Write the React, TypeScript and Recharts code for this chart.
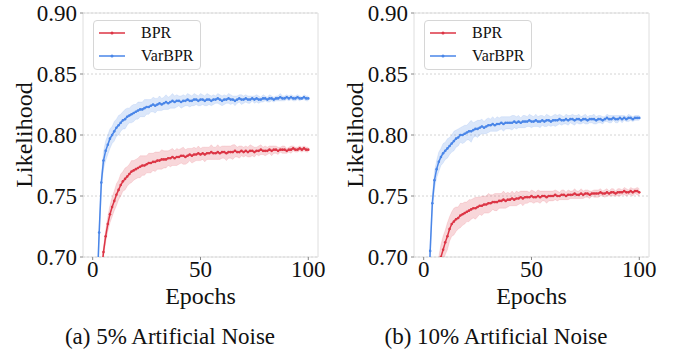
import React from 'react';
import { ComposedChart, Line, Area, XAxis, YAxis, CartesianGrid, Legend, ReferenceArea } from 'recharts';

// x axis: training epochs
const epochs = Array.from({ length: 100 }, (_, i) => i + 1);
const xTicks = [0, 50, 100];
const yTicks = [0.7, 0.75, 0.8, 0.85, 0.9];
const seriesNames = ['BPR', 'VarBPR'];
const captions = ['(a) 5% Artificial Noise', '(b) 10% Artificial Noise'];

// 5% noise
const noise5Bpr = [
  0.640, 0.655, 0.668, 0.686, 0.704, 0.717, 0.727, 0.735, 0.741, 0.746,
  0.751, 0.755, 0.759, 0.762, 0.764, 0.766, 0.768, 0.770, 0.771, 0.772,
  0.773, 0.774, 0.775, 0.775, 0.776, 0.777, 0.777, 0.778, 0.778, 0.779,
  0.779, 0.780, 0.780, 0.780, 0.781, 0.781, 0.782, 0.781, 0.782, 0.782,
  0.783, 0.783, 0.782, 0.783, 0.784, 0.783, 0.784, 0.784, 0.785, 0.784,
  0.785, 0.784, 0.785, 0.785, 0.786, 0.785, 0.785, 0.786, 0.785, 0.786,
  0.786, 0.785, 0.786, 0.786, 0.786, 0.787, 0.786, 0.786, 0.787, 0.786,
  0.787, 0.786, 0.787, 0.787, 0.786, 0.787, 0.787, 0.788, 0.787, 0.787,
  0.787, 0.788, 0.787, 0.788, 0.788, 0.787, 0.788, 0.788, 0.788, 0.787,
  0.788, 0.788, 0.789, 0.788, 0.788, 0.789, 0.788, 0.789, 0.788, 0.788,
];
const noise5BprSpread = [
  0.004, 0.004, 0.004, 0.004, 0.004, 0.005, 0.006, 0.007, 0.008, 0.008,
  0.009, 0.008, 0.009, 0.008, 0.009, 0.008, 0.008, 0.009, 0.008, 0.008,
  0.008, 0.009, 0.008, 0.008, 0.007, 0.008, 0.008, 0.007, 0.008, 0.007,
  0.007, 0.008, 0.007, 0.007, 0.006, 0.007, 0.007, 0.006, 0.007, 0.006,
  0.006, 0.007, 0.006, 0.006, 0.005, 0.006, 0.006, 0.005, 0.006, 0.005,
  0.005, 0.006, 0.005, 0.005, 0.006, 0.005, 0.005, 0.006, 0.005, 0.005,
  0.005, 0.006, 0.005, 0.005, 0.006, 0.005, 0.004, 0.005, 0.004, 0.004,
  0.004, 0.004, 0.005, 0.004, 0.004, 0.003, 0.004, 0.004, 0.003, 0.004,
  0.003, 0.003, 0.004, 0.003, 0.003, 0.003, 0.002, 0.003, 0.003, 0.002,
  0.002, 0.003, 0.002, 0.002, 0.002, 0.002, 0.002, 0.002, 0.002, 0.002,
];
const noise5VarBpr = [
  0.600, 0.672, 0.720, 0.761, 0.779, 0.787, 0.792, 0.797, 0.800, 0.803,
  0.806, 0.808, 0.810, 0.812, 0.813, 0.815, 0.816, 0.817, 0.818, 0.819,
  0.820, 0.821, 0.821, 0.822, 0.823, 0.823, 0.824, 0.825, 0.824, 0.825,
  0.826, 0.825, 0.826, 0.827, 0.826, 0.827, 0.828, 0.827, 0.828, 0.828,
  0.827, 0.828, 0.828, 0.829, 0.828, 0.828, 0.829, 0.829, 0.828, 0.829,
  0.829, 0.828, 0.829, 0.829, 0.828, 0.829, 0.829, 0.830, 0.829, 0.828,
  0.829, 0.829, 0.830, 0.829, 0.829, 0.828, 0.829, 0.830, 0.829, 0.829,
  0.830, 0.829, 0.829, 0.830, 0.829, 0.830, 0.829, 0.829, 0.830, 0.830,
  0.829, 0.830, 0.830, 0.829, 0.830, 0.830, 0.831, 0.830, 0.830, 0.831,
  0.830, 0.831, 0.830, 0.830, 0.831, 0.830, 0.830, 0.831, 0.830, 0.830,
];
const noise5VarBprSpread = [
  0.004, 0.004, 0.005, 0.006, 0.007, 0.008, 0.008, 0.008, 0.007, 0.008,
  0.007, 0.008, 0.007, 0.007, 0.008, 0.007, 0.006, 0.007, 0.007, 0.006,
  0.007, 0.006, 0.006, 0.007, 0.006, 0.006, 0.005, 0.006, 0.006, 0.005,
  0.006, 0.005, 0.005, 0.006, 0.005, 0.005, 0.006, 0.005, 0.005, 0.004,
  0.005, 0.005, 0.004, 0.005, 0.005, 0.004, 0.005, 0.004, 0.004, 0.005,
  0.004, 0.004, 0.005, 0.004, 0.004, 0.004, 0.003, 0.004, 0.004, 0.004,
  0.004, 0.003, 0.004, 0.004, 0.003, 0.004, 0.003, 0.003, 0.004, 0.003,
  0.003, 0.003, 0.003, 0.002, 0.003, 0.003, 0.003, 0.002, 0.003, 0.002,
  0.002, 0.003, 0.002, 0.002, 0.002, 0.002, 0.003, 0.002, 0.002, 0.002,
  0.002, 0.002, 0.002, 0.002, 0.002, 0.002, 0.001, 0.002, 0.002, 0.002,
];

// 10% noise
const noise10Bpr = [
  0.600, 0.620, 0.640, 0.655, 0.668, 0.678, 0.690, 0.700, 0.706, 0.712,
  0.717, 0.723, 0.727, 0.729, 0.731, 0.732, 0.734, 0.735, 0.736, 0.737,
  0.738, 0.739, 0.740, 0.740, 0.741, 0.742, 0.742, 0.743, 0.743, 0.744,
  0.744, 0.745, 0.745, 0.745, 0.746, 0.746, 0.747, 0.746, 0.747, 0.747,
  0.748, 0.747, 0.748, 0.748, 0.749, 0.748, 0.749, 0.749, 0.749, 0.750,
  0.749, 0.749, 0.750, 0.749, 0.750, 0.750, 0.749, 0.750, 0.750, 0.750,
  0.751, 0.750, 0.750, 0.751, 0.751, 0.750, 0.751, 0.751, 0.751, 0.752,
  0.751, 0.751, 0.752, 0.751, 0.752, 0.752, 0.751, 0.752, 0.752, 0.752,
  0.752, 0.753, 0.752, 0.752, 0.753, 0.752, 0.753, 0.753, 0.752, 0.753,
  0.753, 0.753, 0.754, 0.753, 0.753, 0.754, 0.753, 0.754, 0.754, 0.753,
];
const noise10BprSpread = [
  0.006, 0.006, 0.006, 0.007, 0.008, 0.009, 0.010, 0.010, 0.011, 0.010,
  0.011, 0.010, 0.010, 0.011, 0.010, 0.009, 0.010, 0.009, 0.009, 0.008,
  0.009, 0.008, 0.008, 0.009, 0.008, 0.007, 0.008, 0.007, 0.007, 0.008,
  0.007, 0.006, 0.007, 0.007, 0.006, 0.006, 0.007, 0.006, 0.006, 0.005,
  0.006, 0.005, 0.006, 0.005, 0.005, 0.006, 0.005, 0.005, 0.004, 0.005,
  0.005, 0.004, 0.005, 0.005, 0.004, 0.004, 0.005, 0.004, 0.004, 0.004,
  0.004, 0.004, 0.003, 0.004, 0.004, 0.003, 0.004, 0.003, 0.003, 0.004,
  0.003, 0.003, 0.004, 0.003, 0.003, 0.003, 0.003, 0.002, 0.003, 0.003,
  0.003, 0.003, 0.002, 0.003, 0.003, 0.002, 0.003, 0.003, 0.002, 0.003,
  0.003, 0.002, 0.003, 0.003, 0.002, 0.003, 0.003, 0.002, 0.003, 0.003,
];
const noise10VarBpr = [
  0.580, 0.650, 0.705, 0.744, 0.763, 0.772, 0.778, 0.782, 0.785, 0.787,
  0.789, 0.791, 0.793, 0.795, 0.797, 0.798, 0.800, 0.800, 0.801, 0.802,
  0.803, 0.803, 0.804, 0.805, 0.805, 0.806, 0.807, 0.806, 0.807, 0.808,
  0.808, 0.809, 0.808, 0.809, 0.809, 0.810, 0.809, 0.810, 0.810, 0.810,
  0.810, 0.811, 0.810, 0.811, 0.810, 0.811, 0.811, 0.811, 0.812, 0.811,
  0.811, 0.812, 0.811, 0.811, 0.812, 0.811, 0.812, 0.812, 0.811, 0.812,
  0.812, 0.812, 0.813, 0.812, 0.812, 0.813, 0.812, 0.813, 0.813, 0.812,
  0.813, 0.813, 0.812, 0.813, 0.813, 0.812, 0.813, 0.813, 0.813, 0.812,
  0.813, 0.813, 0.812, 0.813, 0.814, 0.813, 0.813, 0.814, 0.813, 0.813,
  0.814, 0.813, 0.814, 0.813, 0.814, 0.814, 0.813, 0.814, 0.814, 0.814,
];
const noise10VarBprSpread = [
  0.004, 0.004, 0.005, 0.006, 0.007, 0.007, 0.008, 0.007, 0.008, 0.007,
  0.008, 0.007, 0.007, 0.008, 0.007, 0.007, 0.006, 0.007, 0.007, 0.006,
  0.007, 0.009, 0.006, 0.006, 0.007, 0.006, 0.006, 0.005, 0.006, 0.006,
  0.005, 0.006, 0.005, 0.006, 0.005, 0.005, 0.006, 0.005, 0.005, 0.005,
  0.006, 0.005, 0.005, 0.005, 0.004, 0.005, 0.005, 0.004, 0.005, 0.005,
  0.004, 0.005, 0.004, 0.005, 0.004, 0.004, 0.005, 0.004, 0.004, 0.004,
  0.005, 0.004, 0.004, 0.004, 0.003, 0.004, 0.004, 0.003, 0.004, 0.004,
  0.003, 0.004, 0.003, 0.003, 0.004, 0.003, 0.003, 0.003, 0.004, 0.003,
  0.003, 0.003, 0.003, 0.002, 0.003, 0.003, 0.003, 0.002, 0.003, 0.003,
  0.002, 0.003, 0.002, 0.002, 0.003, 0.002, 0.002, 0.002, 0.002, 0.002,
];

const RED = '#dc3545';
const BLUE = '#4a86e8';
const colors = [RED, BLUE];
const FONT = 'Liberation Serif';
const textStyle = { fontFamily: FONT };

const buildRows = (bpr: number[], bprSd: number[], vbpr: number[], vbprSd: number[]) =>
  epochs.map((epoch, i) => ({
    epoch,
    bpr: bpr[i],
    bprBand: [bpr[i] - bprSd[i], bpr[i] + bprSd[i]],
    varbpr: vbpr[i],
    varbprBand: [vbpr[i] - vbprSd[i], vbpr[i] + vbprSd[i]],
  }));

const XTick = ({ x, y, payload }: any) => (
  <text x={x} y={y} dy="0.71em" textAnchor="middle" fontSize={23} fill="#111" style={textStyle}>
    {payload.value}
  </text>
);

const YTick = ({ x, y, payload }: any) => (
  <text x={x} y={y} dy="0.355em" textAnchor="end" fontSize={23} fill="#111" style={textStyle}>
    {Number(payload.value).toFixed(2)}
  </text>
);

const AxisTitle = ({ viewBox, text, kind }: any) => {
  if (!viewBox) return null;
  if (kind === 'x') {
    return (
      <text x={viewBox.x + viewBox.width / 2} y={viewBox.y + 47} textAnchor="middle" fontSize={24} fill="#111" style={textStyle}>
        {text}
      </text>
    );
  }
  const x = viewBox.x + 32;
  const y = viewBox.y + viewBox.height / 2;
  return (
    <text x={x} y={y} textAnchor="middle" fontSize={24} fill="#111" style={textStyle} transform={`rotate(-90, ${x}, ${y})`}>
      {text}
    </text>
  );
};

const LegendBox = () => (
  <div
    style={{
      position: 'relative',
      width: 108,
      height: 50,
      boxSizing: 'border-box',
      border: '1px solid #d6d6d6',
      borderRadius: 4,
      background: 'rgba(255,255,255,0.85)',
      fontSize: 16,
      fontFamily: FONT,
      color: '#111',
    }}
  >
    {seriesNames.map((name, i) => (
      <div key={name} style={{ position: 'absolute', left: 5, top: 2 + i * 23, height: 20, display: 'flex', alignItems: 'center' }}>
        <svg width={26} height={8}>
          <line x1={0} y1={4} x2={26} y2={4} stroke={colors[i]} strokeWidth={1.5} />
          <circle cx={13} cy={4} r={1.5} fill={colors[i]} />
        </svg>
        <span style={{ marginLeft: 16, lineHeight: '20px' }}>{name}</span>
      </div>
    ))}
  </div>
);

const Panel = ({ rows, left, caption, captionX }: any) => (
  <div style={{ position: 'absolute', left, top: 0, width: 340, height: 350 }}>
    <ComposedChart width={340} height={310} data={rows} margin={{ top: 13, right: 22, bottom: 0, left: 0 }}>
      <CartesianGrid vertical={false} stroke="#d4d4d4" strokeDasharray="2 2" />
      <ReferenceArea x1={-4.5} x2={104.5} y1={0.7} y2={0.9} fill="none" stroke="#dedede" strokeWidth={1} />
      <XAxis
        type="number"
        dataKey="epoch"
        domain={[-4.5, 104.5]}
        ticks={xTicks}
        allowDataOverflow
        height={53}
        axisLine={false}
        tickLine={{ stroke: '#888' }}
        tickSize={3}
        tickMargin={1}
        tick={<XTick />}
        label={<AxisTitle text="Epochs" kind="x" />}
      />
      <YAxis
        domain={[0.7, 0.9]}
        ticks={yTicks}
        allowDataOverflow
        width={83}
        axisLine={false}
        tickLine={{ stroke: '#888' }}
        tickSize={3}
        tickMargin={3}
        tick={<YTick />}
        label={<AxisTitle text="Likelihood" kind="y" />}
      />
      <Area
        type="linear"
        dataKey="bprBand"
        fill={RED}
        fillOpacity={0.2}
        stroke={RED}
        strokeOpacity={0.12}
        legendType="none"
        isAnimationActive={false}
      />
      <Area
        type="linear"
        dataKey="varbprBand"
        fill={BLUE}
        fillOpacity={0.2}
        stroke={BLUE}
        strokeOpacity={0.12}
        legendType="none"
        isAnimationActive={false}
      />
      <Line
        type="linear"
        dataKey="bpr"
        name="BPR"
        stroke={RED}
        strokeWidth={1.5}
        dot={{ r: 1.3, fill: RED, strokeWidth: 0 }}
        isAnimationActive={false}
      />
      <Line
        type="linear"
        dataKey="varbpr"
        name="VarBPR"
        stroke={BLUE}
        strokeWidth={1.5}
        dot={{ r: 1.3, fill: BLUE, strokeWidth: 0 }}
        isAnimationActive={false}
      />
      <Legend
        content={<LegendBox />}
        layout="horizontal"
        align="center"
        verticalAlign="middle"
        wrapperStyle={{ left: 93, top: 20, width: 'auto', height: 'auto' }}
      />
    </ComposedChart>
    <div
      style={{
        position: 'absolute',
        top: 324,
        left: captionX - 150,
        width: 300,
        textAlign: 'center',
        fontSize: 23,
        color: '#111',
        whiteSpace: 'nowrap',
      }}
    >
      {caption}
    </div>
  </div>
);

export default function App() {
  const rows5 = buildRows(noise5Bpr, noise5BprSpread, noise5VarBpr, noise5VarBprSpread);
  const rows10 = buildRows(noise10Bpr, noise10BprSpread, noise10VarBpr, noise10VarBprSpread);
  return (
    <div
      style={{
        position: 'absolute',
        left: 0,
        top: 0,
        width: 677,
        height: 350,
        background: '#fff',
        fontFamily: FONT,
      }}
    >
      <Panel rows={rows5} left={0} caption={captions[0]} captionX={170} />
      <Panel rows={rows10} left={331} caption={captions[1]} captionX={165} />
    </div>
  );
}
